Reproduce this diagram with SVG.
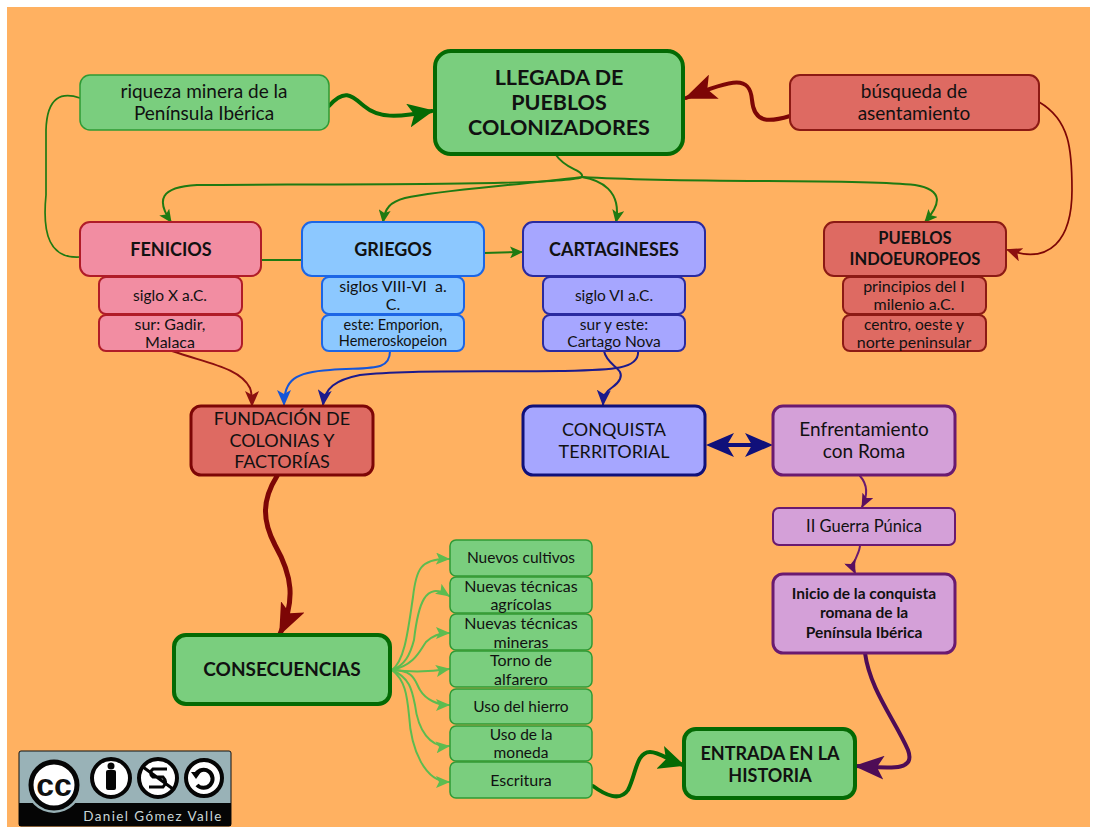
<svg xmlns="http://www.w3.org/2000/svg" width="1098" height="827" viewBox="0 0 1098 827">
<style>
text{font-family:"Lato","Noto Sans",sans-serif;text-anchor:middle;fill:#111;white-space:pre}
.b{font-weight:700}
.s14{font-size:14.5px}.s15{font-size:15.5px}.s16{font-size:16px}.s17{font-size:16.5px}.s18{font-size:18px}.s19{font-size:19px}.s21{font-size:21.5px}
.c{fill:none;stroke-linecap:round}
.g{fill:#7ace7e}.dg{stroke:#046a04;stroke-width:4}.mg{stroke:#2f9a35;stroke-width:1.5}
.r{fill:#de6a62;stroke:#8c1a14;stroke-width:2}
.p{fill:#f28da2;stroke:#b01c28;stroke-width:2}
.bl{fill:#8cc8ff;stroke:#1c66e6;stroke-width:2}
.v{fill:#a6a6ff;stroke:#2a2aa0;stroke-width:2}
.m{fill:#d4a0d8;stroke:#6a1a70;stroke-width:2}
</style>
<defs>
<marker id="aG" markerWidth="13" markerHeight="12" refX="12" refY="6" orient="auto" markerUnits="userSpaceOnUse" viewBox="0 0 13 12"><path d="M0 0L13 6L0 12L3 6Z" fill="#1f7a12"/></marker>
<marker id="aL" markerWidth="14" markerHeight="12" refX="13" refY="6" orient="auto" markerUnits="userSpaceOnUse" viewBox="0 0 14 12"><path d="M0 0L14 6L0 12L3 6Z" fill="#5cbc50"/></marker>
<marker id="aD" markerWidth="26" markerHeight="24" refX="24" refY="12" orient="auto" markerUnits="userSpaceOnUse" viewBox="0 0 26 24"><path d="M0 0L26 12L0 24L6 12Z" fill="#046a04"/></marker>
<marker id="aR" markerWidth="16" markerHeight="14" refX="14" refY="7" orient="auto" markerUnits="userSpaceOnUse" viewBox="0 0 16 14"><path d="M0 0L16 7L0 14L4 7Z" fill="#8c1010"/></marker>
<marker id="aRb" markerWidth="32" markerHeight="26" refX="30" refY="13" orient="auto" markerUnits="userSpaceOnUse" viewBox="0 0 32 26"><path d="M0 0L32 13L0 26L7 13Z" fill="#7d0606"/></marker>
<marker id="aB" markerWidth="16" markerHeight="14" refX="15" refY="7" orient="auto" markerUnits="userSpaceOnUse" viewBox="0 0 16 14"><path d="M0 0L16 7L0 14L4 7Z" fill="#1555d8"/></marker>
<marker id="aN" markerWidth="16" markerHeight="14" refX="15" refY="7" orient="auto" markerUnits="userSpaceOnUse" viewBox="0 0 16 14"><path d="M0 0L16 7L0 14L4 7Z" fill="#1c1a8c"/></marker>
<marker id="aM" markerWidth="14" markerHeight="12" refX="13" refY="6" orient="auto" markerUnits="userSpaceOnUse" viewBox="0 0 14 12"><path d="M0 0L14 6L0 12L3 6Z" fill="#5a1060"/></marker>
<marker id="aMb" markerWidth="30" markerHeight="24" refX="28" refY="12" orient="auto" markerUnits="userSpaceOnUse" viewBox="0 0 30 24"><path d="M0 0L30 12L0 24L7 12Z" fill="#4e0c56"/></marker>
</defs>
<rect width="1098" height="827" fill="#fff"/>
<rect x="7" y="7" width="1083" height="820" fill="#ffb161"/>
<g id="connectors">
<path class="c" stroke="#1f7a12" stroke-width="1.7" d="M80 98C62 92 47 96 46 130V195C42 235 50 259 80 257"/>
<path class="c" stroke="#046a04" stroke-width="4" marker-end="url(#aD)" d="M329 106C345 88 352 96 364 106C378 118 396 118 432 111"/>
<path class="c" stroke="#7d0606" stroke-width="4" marker-end="url(#aRb)" d="M790 116C770 122 754 124 752 100C750 76 735 78 686 98"/>
<path class="c" stroke="#7d0606" stroke-width="1.7" marker-end="url(#aR)" d="M1039 102C1070 120 1072 150 1072 190C1072 240 1050 265 1008 250"/>
<g stroke="#1f7a12" stroke-width="2" class="c">
<path d="M556 155C566 170 584 170 582 177C570 186 300 184 197 185C160 187 156 200 171 222" marker-end="url(#aG)"/>
<path d="M582 177C500 187 440 190 405 198C390 202 385 208 383 222" marker-end="url(#aG)"/>
<path d="M582 177C600 180 622 190 616 222" marker-end="url(#aG)"/>
<path d="M582 177C700 184 850 178 915 185C945 190 940 205 925 222" marker-end="url(#aG)"/>
<path d="M261 260L302 260"/>
<path d="M484 253L522 252" marker-end="url(#aG)"/>
</g>
<path class="c" stroke="#8c1010" stroke-width="2" marker-end="url(#aR)" d="M172 351C210 364 240 368 250 388C252 393 252 398 252 405"/>
<path class="c" stroke="#1555d8" stroke-width="2" marker-end="url(#aB)" d="M390 351C390 372 370 367 330 370C295 372 284 380 284 405"/>
<path class="c" stroke="#1c1a8c" stroke-width="2" marker-end="url(#aN)" d="M638 351C640 370 610 370 560 371C470 372 400 370 360 375C335 380 325 388 323 405"/>
<path class="c" stroke="#1c1a8c" stroke-width="2" marker-end="url(#aN)" d="M604 351C607 366 625 368 620 379C615 390 604 386 603 405"/>
<path class="c" stroke="#10107a" stroke-width="4" d="M715 445H765"/>
<path d="M706 445l28-12-7 12 7 12zM773 445l-28-12 7 12-7 12z" fill="#10107a"/>
<path class="c" stroke="#6a1a70" stroke-width="2" marker-end="url(#aM)" d="M860 476C868 485 868 495 862 507"/>
<path class="c" stroke="#6a1a70" stroke-width="2" marker-end="url(#aM)" d="M860 545C860 555 850 562 855 573"/>
<path class="c" stroke="#4e0c56" stroke-width="4" marker-end="url(#aMb)" d="M865 653C870 690 895 720 908 750C916 772 890 768 856 766"/>
<path class="c" stroke="#7d0606" stroke-width="5" marker-end="url(#aRb)" d="M277 476C262 500 262 520 275 545C292 575 296 600 280 634"/>
<g class="c" stroke="#5cbc50" stroke-width="2">
<path d="M392 670C405 660 408 630 413 597C416 570 420 558 449 559" marker-end="url(#aL)"/>
<path d="M392 670C405 665 410 655 414 640C418 605 425 580 449 596" marker-end="url(#aL)"/>
<path d="M392 670C415 665 420 650 426 642C432 636 438 633 449 633" marker-end="url(#aL)"/>
<path d="M392 670C410 672 430 672 449 669" marker-end="url(#aL)"/>
<path d="M392 670C415 670 415 682 420 690C426 700 438 705 449 705" marker-end="url(#aL)"/>
<path d="M392 670C410 678 412 690 415 705C418 730 430 748 449 746" marker-end="url(#aL)"/>
<path d="M392 670C405 680 407 695 409 715C411 750 425 782 449 782" marker-end="url(#aL)"/>
</g>
<path class="c" stroke="#046a04" stroke-width="4" marker-end="url(#aD)" d="M593 786C605 795 620 802 628 790C636 775 636 752 650 752C660 752 668 760 683 765"/>
</g>
<g id="n-llegada"><rect class="g dg" x="435" y="51" width="248" height="103" rx="16"/><text class="s21 b" x="559" y="85">LLEGADA DE</text><text class="s21 b" x="559" y="110">PUEBLOS</text><text class="s21 b" x="559" y="135">COLONIZADORES</text></g>
<g id="n-riqueza"><rect class="g mg" x="80" y="75" width="249" height="55" rx="10"/><text class="s19" x="204" y="98">riqueza minera de la</text><text class="s19" x="204" y="120">Península Ibérica</text></g>
<g id="n-busqueda"><rect class="r" x="790" y="75" width="249" height="55" rx="10"/><text class="s19" x="914" y="98">búsqueda de</text><text class="s19" x="914" y="120">asentamiento</text></g>
<g id="n-fenicios"><rect class="p" x="80" y="222" width="181" height="54" rx="10"/><text class="s18 b" x="171" y="256">FENICIOS</text></g>
<g id="n-griegos"><rect class="bl" x="302" y="222" width="182" height="54" rx="10"/><text class="s18 b" x="393" y="256">GRIEGOS</text></g>
<g id="n-cartagineses"><rect class="v" x="523" y="222" width="182" height="54" rx="10"/><text class="s18 b" x="614" y="256">CARTAGINESES</text></g>
<g id="n-indoeuropeos"><rect class="r" x="824" y="222" width="182" height="54" rx="10"/><text class="s17 b" x="915" y="244">PUEBLOS</text><text class="s17 b" x="915" y="265">INDOEUROPEOS</text></g>
<g id="n-f1"><rect class="p" x="99" y="277" width="143" height="37" rx="7"/><text class="s15" x="170" y="301">siglo X a.C.</text></g>
<g id="n-f2"><rect class="p" x="99" y="315" width="143" height="36" rx="7"/><text class="s16" x="170" y="330">sur: Gadir,</text><text class="s16" x="170" y="348">Malaca</text></g>
<g id="n-g1"><rect class="bl" x="322" y="277" width="142" height="37" rx="7"/><text class="s16" x="393" y="292">siglos VIII-VI  a.</text><text class="s16" x="393" y="310">C.</text></g>
<g id="n-g2"><rect class="bl" x="322" y="315" width="142" height="36" rx="7"/><text class="s14" x="393" y="330">este: Emporion,</text><text class="s14" x="393" y="346">Hemeroskopeion</text></g>
<g id="n-c1"><rect class="v" x="543" y="277" width="142" height="37" rx="7"/><text class="s15" x="614" y="301">siglo VI a.C.</text></g>
<g id="n-c2"><rect class="v" x="543" y="315" width="142" height="36" rx="7"/><text class="s15" x="614" y="330">sur y este:</text><text class="s15" x="614" y="347">Cartago Nova</text></g>
<g id="n-i1"><rect class="r" x="843" y="277" width="143" height="37" rx="7"/><text class="s16" x="914" y="292">principios del I</text><text class="s16" x="914" y="310">milenio a.C.</text></g>
<g id="n-i2"><rect class="r" x="843" y="315" width="143" height="36" rx="7"/><text class="s15" x="914" y="330">centro, oeste y</text><text class="s16" x="914" y="348">norte peninsular</text></g>
<g id="n-fundacion"><rect x="191" y="406" width="182" height="69" rx="10" fill="#de6a62" stroke="#7d0606" stroke-width="3"/><text class="s18" x="282" y="425">FUNDACIÓN DE</text><text class="s18" x="282" y="447">COLONIAS Y</text><text class="s18" x="282" y="468">FACTORÍAS</text></g>
<g id="n-conquista"><rect x="523" y="406" width="182" height="69" rx="10" fill="#a6a6ff" stroke="#10107a" stroke-width="3"/><text class="s18" x="614" y="436">CONQUISTA</text><text class="s18" x="614" y="458">TERRITORIAL</text></g>
<g id="n-enfrentamiento"><rect x="773" y="406" width="182" height="69" rx="10" fill="#d4a0d8" stroke="#6a1a70" stroke-width="3"/><text class="s19" x="864" y="436">Enfrentamiento</text><text class="s19" x="864" y="458">con Roma</text></g>
<g id="n-guerra"><rect class="m" x="773" y="508" width="182" height="37" rx="6"/><text class="s17" x="864" y="532">II Guerra Púnica</text></g>
<g id="n-inicio"><rect x="773" y="574" width="182" height="79" rx="10" fill="#d4a0d8" stroke="#6a1a70" stroke-width="3"/><text class="s15 b" x="864" y="599">Inicio de la conquista</text><text class="s15 b" x="864" y="618">romana de la</text><text class="s15 b" x="864" y="638">Península Ibérica</text></g>
<g id="n-consecuencias"><rect class="g dg" x="174" y="635" width="216" height="69" rx="12"/><text class="s19 b" x="282" y="676">CONSECUENCIAS</text></g>
<g id="n-entrada"><rect class="g dg" x="684" y="729" width="171" height="69" rx="12"/><text class="s18 b" x="770" y="760">ENTRADA EN LA</text><text class="s18 b" x="770" y="782">HISTORIA</text></g>
<g id="n-cultivos"><rect class="g mg" x="450" y="540" width="142" height="36" rx="6"/><text class="s15" x="521" y="563">Nuevos cultivos</text></g>
<g id="n-agricolas"><rect class="g mg" x="450" y="577" width="142" height="36" rx="6"/><text class="s16" x="521" y="592">Nuevas técnicas</text><text class="s16" x="521" y="610">agrícolas</text></g>
<g id="n-mineras"><rect class="g mg" x="450" y="614" width="142" height="36" rx="6"/><text class="s16" x="521" y="629">Nuevas técnicas</text><text class="s16" x="521" y="648">mineras</text></g>
<g id="n-torno"><rect class="g mg" x="450" y="651" width="142" height="36" rx="6"/><text class="s16" x="521" y="666">Torno de</text><text class="s16" x="521" y="685">alfarero</text></g>
<g id="n-hierro"><rect class="g mg" x="450" y="689" width="142" height="35" rx="6"/><text class="s15" x="521" y="712">Uso del hierro</text></g>
<g id="n-moneda"><rect class="g mg" x="450" y="726" width="142" height="35" rx="6"/><text class="s15" x="521" y="740">Uso de la</text><text class="s15" x="521" y="758">moneda</text></g>
<g id="n-escritura"><rect class="g mg" x="450" y="762" width="142" height="36" rx="6"/><text class="s16" x="521" y="786">Escritura</text></g>
<g id="cc-badge">
<rect x="19" y="751" width="212" height="75" rx="2" fill="#99b2b7" stroke="#111"/>
<path d="M19 803H231V826H19Z" fill="#050505"/>
<circle cx="54" cy="785" r="28" fill="#99b2b7"/>
<circle cx="54" cy="785" r="23" fill="#fff" stroke="#050505" stroke-width="5"/>
<text x="54" y="796" style="font-size:32px;font-weight:700;font-family:'Liberation Sans',sans-serif">cc</text>
<circle cx="111" cy="778" r="19" fill="#fff" stroke="#050505" stroke-width="4"/>
<circle cx="111" cy="766" r="3.5" fill="#050505"/><rect x="106" y="770" width="10" height="20" rx="2" fill="#050505"/>
<circle cx="158" cy="778" r="19" fill="#fff" stroke="#050505" stroke-width="4"/>
<path d="M143 767L173 789M167 769H153Q148 773 153 777H163Q168 782 163 787H149" fill="none" stroke="#050505" stroke-width="3"/>
<circle cx="204" cy="778" r="18" fill="#fff" stroke="#050505" stroke-width="4"/>
<path d="M196 774A9 9 0 1 1 197 785" fill="none" stroke="#050505" stroke-width="4"/><path d="M191 772H201L196 779Z" fill="#050505"/>
<text x="153" y="821" style="font-size:13.5px;fill:#c9d6d8;letter-spacing:1.4px">Daniel Gómez Valle</text>
</g>
</svg>
